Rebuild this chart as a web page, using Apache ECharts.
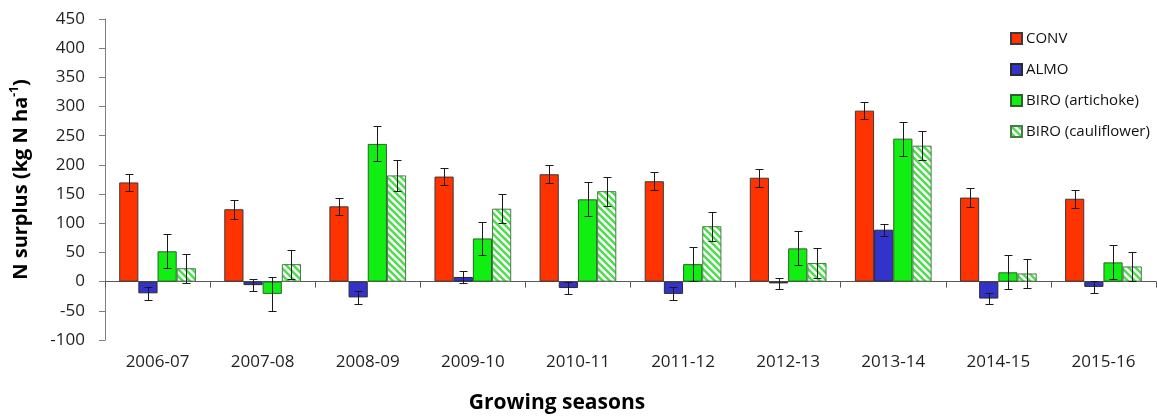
<!DOCTYPE html>
<html>
<head>
<meta charset="utf-8">
<script src="https://cdn.jsdelivr.net/npm/echarts@6/dist/echarts.min.js"></script>
<style>
html,body{margin:0;padding:0;background:#fff;}
#chart{width:1157px;height:418px;}
</style>
</head>
<body>
<div id="chart"></div>
<script>
// ---- data ----
const categories = ['2006-07','2007-08','2008-09','2009-10','2010-11','2011-12','2012-13','2013-14','2014-15','2015-16'];
const seriesNames = ['CONV','ALMO','BIRO (artichoke)','BIRO (cauliflower)'];
const conv      = [170, 124, 129, 180, 184, 172, 178, 293, 144, 142];
const convErr   = [15, 16, 15, 14, 15, 15, 15, 15, 16, 15];
const almo      = [-20, -6, -27, 8, -11, -21, -3, 89, -29, -9];
const almoErr   = [11, 10, 11, 10, 10, 11, 10, 10, 10, 10];
const biroArt   = [52, -21, 236, 74, 141, 30, 57, 245, 16, 33];
const biroArtErr= [29, 29, 30, 29, 29, 29, 29, 29, 29, 29];
const biroCau   = [23, 30, 182, 125, 155, 95, 32, 233, 14, 26];
const biroCauErr= [25, 25, 26, 25, 25, 25, 25, 25, 25, 25];
const yTicks = {min: -100, max: 450, interval: 50};

// ---- styling ----
const FONT = '"Open Sans", sans-serif';
const CAT_GAP = 0.27;

function makeHatch() {
  const s = 7;
  const c = document.createElement('canvas');
  c.width = s; c.height = s;
  const g = c.getContext('2d');
  g.fillStyle = '#ffffff';
  g.fillRect(0, 0, s, s);
  g.strokeStyle = '#4fdc4f';
  g.lineWidth = 2.6;
  g.beginPath();
  for (let k = -1; k <= 1; k++) {
    g.moveTo(k * s - 1, -1);
    g.lineTo(k * s + s + 1, s + 1);
  }
  g.stroke();
  return c;
}

const values = [conv, almo, biroArt, biroCau];
const errs = [convErr, almoErr, biroArtErr, biroCauErr];
const colors = ['#ff3300', '#3333cc', '#11ee11', {image: makeHatch(), repeat: 'repeat'}];
const borders = ['#3a3a3a', '#2a2a2a', '#2f5f2f', '#4a7a4a'];

const barSeries = values.map((vals, i) => ({
  name: seriesNames[i],
  type: 'bar',
  xAxisIndex: 0,
  data: vals,
  barGap: '0%',
  barCategoryGap: (CAT_GAP * 100) + '%',
  itemStyle: {color: colors[i], borderColor: borders[i], borderWidth: 1},
  emphasis: {disabled: true},
  z: 2
}));

const errSeries = values.map((vals, i) => ({
  name: seriesNames[i] + ' err',
  type: 'custom',
  xAxisIndex: 0,
  z: 5,
  silent: true,
  data: vals.map((v, j) => [j, v, errs[i][j]]),
  renderItem: function (params, api) {
    const ci = api.value(0), v = api.value(1), e = api.value(2);
    const band = api.size([1, 0])[0];
    const bw = band * (1 - CAT_GAP) / 4;
    const off = (i - 1.5) * bw;
    const top = api.coord([ci, v + e]);
    const bot = api.coord([ci, v - e]);
    const x = Math.round(top[0] + off) + 0.5;
    const y1 = Math.round(top[1]) + 0.5, y2 = Math.round(bot[1]) + 0.5;
    const cap = 4;
    const st = {stroke: '#1a1a1a', lineWidth: 1};
    return {
      type: 'group',
      children: [
        {type: 'line', shape: {x1: x, y1: y1, x2: x, y2: y2}, style: st},
        {type: 'line', shape: {x1: x - cap, y1: y1, x2: x + cap, y2: y1}, style: st},
        {type: 'line', shape: {x1: x - cap, y1: y2, x2: x + cap, y2: y2}, style: st}
      ]
    };
  }
}));

const chart = echarts.init(document.getElementById('chart'), null, {renderer: 'canvas'});
chart.setOption({
  animation: false,
  backgroundColor: '#ffffff',
  grid: {left: 105, width: 1051, top: 19, bottom: 78, containLabel: false, outerBoundsMode: 'none'},
  legend: {
    data: seriesNames,
    orient: 'vertical',
    left: 1005,
    top: 26,
    itemWidth: 11,
    itemHeight: 11,
    itemGap: 16,
    icon: 'rect',
    selectedMode: false,
    textStyle: {fontFamily: FONT, fontSize: 15, color: '#111', padding: [0, 0, 0, -1]}
  },
  xAxis: [
    {
      type: 'category',
      data: categories,
      position: 'bottom',
      axisLine: {show: false, onZero: false},
      axisTick: {show: false},
      axisLabel: {fontFamily: FONT, fontSize: 17, color: '#1f1f1f', margin: 14, interval: 0},
      splitLine: {show: false}
    },
    {
      type: 'category',
      data: categories,
      position: 'bottom',
      axisLine: {show: true, onZero: true, lineStyle: {color: '#595959', width: 1}},
      axisTick: {show: true, length: 6, alignWithLabel: false, lineStyle: {color: '#595959'}},
      axisLabel: {show: false},
      splitLine: {show: false}
    }
  ],
  yAxis: {
    type: 'value',
    min: yTicks.min,
    max: yTicks.max,
    interval: yTicks.interval,
    axisLine: {show: true, lineStyle: {color: '#7f7f7f'}},
    axisTick: {show: true, length: 6, lineStyle: {color: '#7f7f7f'}},
    splitLine: {show: false},
    axisLabel: {fontFamily: FONT, fontSize: 17, color: '#1f1f1f', margin: 20},
    name: '{b|N surplus (kg N ha}{s|-1}{b|)}',
    nameLocation: 'middle',
    nameGap: 74,
    nameRotate: 90,
    nameTextStyle: {
      rich: {
        b: {fontFamily: FONT, fontSize: 20, fontWeight: 'bold', color: '#000', lineHeight: 22, verticalAlign: 'bottom'},
        s: {fontFamily: FONT, fontSize: 12, fontWeight: 'bold', color: '#000', lineHeight: 22, verticalAlign: 'top', padding: [0, 0, 8, 0]}
      }
    }
  },
  graphic: [{
    type: 'text',
    x: 557,
    y: 403,
    style: {
      text: 'Growing seasons',
      font: 'bold 21px "Open Sans", sans-serif',
      fill: '#000',
      textAlign: 'center',
      textVerticalAlign: 'middle'
    }
  }],
  series: barSeries.concat(errSeries)
});
</script>
</body>
</html>
